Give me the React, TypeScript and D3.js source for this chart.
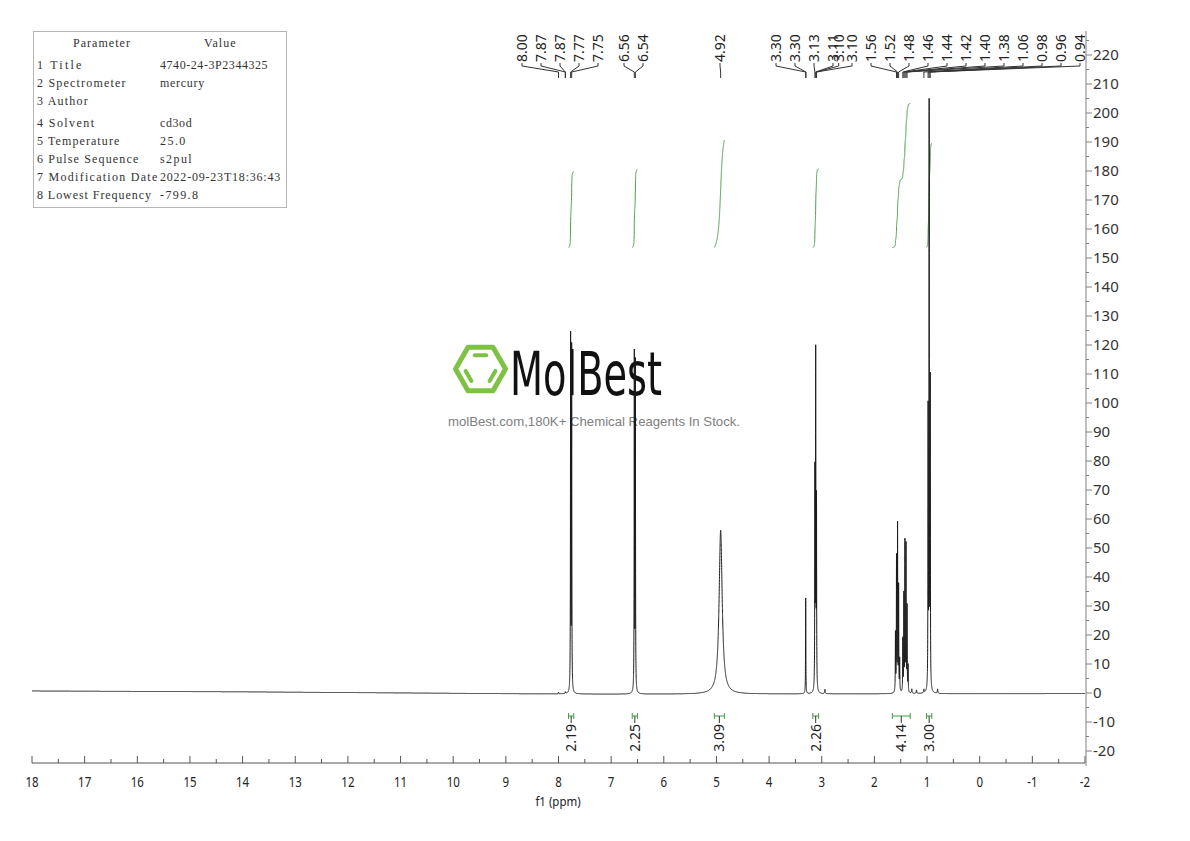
import React from "react";
import * as d3 from "d3";

// ---------- data ----------
const xTickValues = d3.range(18, -2.5, -1);
const xMinorValues = d3.range(17.5, -2, -1);
const yTickValues = d3.range(-20, 221, 10);
const yMinorValues = d3.range(-15, 226, 10);

// peak list: chemical shift (ppm), height, half width (ppm)
const peakPpm = [8.0, 7.87, 7.77, 7.75, 6.56, 6.54, 4.92, 3.305, 3.13, 3.115, 3.1, 2.94, 1.6, 1.58, 1.56, 1.54, 1.52, 1.46, 1.44, 1.42, 1.4, 1.38, 1.36, 1.29, 1.2, 1.06, 0.98, 0.96, 0.94, 0.8];
const peakHeight = [0.6, 0.6, 122, 118, 116, 113, 56.5, 33, 74, 114, 64, 1.5, 20, 46, 57, 36, 11, 18, 33, 51, 50, 29, 9, 1.5, 1.2, 1.2, 95, 200, 105, 1.5];
const peakWidth = [0.004, 0.004, 0.0033, 0.0033, 0.0033, 0.0033, 0.035, 0.003, 0.0033, 0.0033, 0.0033, 0.006, 0.0033, 0.0033, 0.0033, 0.0033, 0.0033, 0.0033, 0.0033, 0.0033, 0.0033, 0.0033, 0.0033, 0.006, 0.006, 0.005, 0.0033, 0.0033, 0.0033, 0.006];

const baselinePpm = [18, 14, 10, 8.5, 7, 5.5, 4, 2, 0, -2];
const baselineValue = [0.7, 0.4, -0.1, -0.3, -0.4, -0.4, -0.35, -0.3, -0.25, -0.2];

const peakLabelText = ["8.00", "7.87", "7.87", "7.77", "7.75", "6.56", "6.54", "4.92", "3.30", "3.30", "3.13", "3.11", "3.10", "3.10", "1.56", "1.52", "1.48", "1.46", "1.44", "1.42", "1.40", "1.38", "1.06", "0.98", "0.96", "0.94"];
const peakLabelPpm = [8.0, 7.87, 7.87, 7.77, 7.75, 6.56, 6.54, 4.92, 3.305, 3.30, 3.13, 3.115, 3.10, 3.10, 1.58, 1.56, 1.54, 1.46, 1.44, 1.42, 1.40, 1.38, 1.06, 0.98, 0.96, 0.94];
const peakLabelGroup = [0, 0, 0, 0, 0, 1, 1, 2, 3, 3, 3, 3, 3, 3, 3, 3, 3, 3, 3, 3, 3, 3, 3, 3, 3, 3];

const integralValue = [2.19, 2.25, 3.09, 2.26, 4.14, 3.0];
const integralFrom = [7.81, 6.6, 5.04, 3.17, 1.66, 1.01];
const integralTo = [7.71, 6.5, 4.85, 3.06, 1.32, 0.91];

const paramNames = ["1 Title", "2 Spectrometer", "3 Author", "4 Solvent", "5 Temperature", "6 Pulse Sequence", "7 Modification Date", "8 Lowest Frequency"];
const paramValues = ["4740-24-3P2344325", "mercury", "", "cd3od", "25.0", "s2pul", "2022-09-23T18:36:43", "-799.8"];

// ---------- layout ----------
const W = 1190;
const H = 841;
const x = d3.scaleLinear().domain([18, -2]).range([32, 1085]);
const y = d3.scaleLinear().domain([0, 220]).range([693, 55]);
const axisY = 763;
const axisX = 1086;
const green = "#3f9f3f";
const logoGreen = "#7dc242";

const baseline = d3.scaleLinear().domain(baselinePpm).range(baselineValue);
function peaksAt(p: number) {
  let s = 0;
  for (let i = 0; i < peakPpm.length; i++) {
    const d = (p - peakPpm[i]) / peakWidth[i];
    s += peakHeight[i] / (1 + d * d);
  }
  return s;
}

const grid = Array.from(new Set([...d3.range(18, -2.0001, -0.0005), ...peakPpm])).sort((a, b) => b - a);
const spectrum = grid.map((p) => [p, baseline(p) + peaksAt(p)] as [number, number]);
const specLine = d3
  .line<[number, number]>()
  .x((d) => x(d[0]))
  .y((d) => y(d[1]));

const integralBase = 153.6;
const integralScale = 12;
function integralCurve(i: number) {
  const pts = d3.range(integralFrom[i], integralTo[i] - 0.00001, -0.0005);
  const vals = pts.map((p) => peaksAt(p));
  const cum = d3.cumsum(vals);
  const total = cum[cum.length - 1];
  const data = pts.map((p, k) => [p, integralBase + (cum[k] / total) * integralValue[i] * integralScale] as [number, number]);
  return specLine(data) || "";
}

// label placement: groups of evenly spaced labels
const groupStart = [522, 624, 720, 776];
const labelStep = 19;
const labelX = peakLabelText.map((_, i) => {
  const g = peakLabelGroup[i];
  const first = peakLabelGroup.indexOf(g);
  let k = i - first;
  if (g === 3 && i >= 12) k = i - first - 0.7;
  if (g === 3 && i >= 13) k = i - first - 1;
  return groupStart[g] + k * labelStep;
});

const charW = 6.33;
const hexCx = 480.5;
const hexCy = 369;
const hexPt = (r: number, k: number) => [hexCx + r * Math.cos((Math.PI / 3) * k), hexCy + r * Math.sin((Math.PI / 3) * k)];

export default function App() {
  const tableRowsY = [65, 83, 101, 123, 141, 159, 177, 195];
  return (
    <svg width={W} height={H} style={{ display: "block", position: "absolute", left: 0, top: 0, background: "#fff" }}>
      <rect x={0} y={0} width={W} height={H} fill="#fff" />

      {/* parameter table */}
      <g fontFamily="'Liberation Serif', 'DejaVu Serif', serif" fontSize={12} fill="#333">
        <rect x={33.5} y={31.5} width={253} height={176} fill="none" stroke="#b5b5b5" />
        <text x={73} y={47} textLength={9 * charW} lengthAdjust="spacing">Parameter</text>
        <text x={204} y={47} textLength={5 * charW} lengthAdjust="spacing">Value</text>
        {paramNames.map((n, i) => (
          <text key={n} x={37} y={tableRowsY[i] + 4} textLength={n.length * charW} lengthAdjust="spacing">{n}</text>
        ))}
        {paramValues.map((v, i) =>
          v ? (
            <text key={"v" + i} x={160} y={tableRowsY[i] + 4} textLength={v.length * charW} lengthAdjust="spacing">{v}</text>
          ) : null
        )}
      </g>

      {/* watermark logo */}
      <g>
        <polygon
          points={d3.range(6).map((k) => hexPt(25, k).join(",")).join(" ")}
          fill="none"
          stroke={logoGreen}
          strokeWidth={5}
          strokeLinejoin="round"
        />
        {[[4, 5], [2, 3], [0, 1]].map(([a, b], k) => {
          const pa = hexPt(16, a);
          const pb = hexPt(16, b);
          const t = 0.14;
          return (
            <line
              key={k}
              x1={pa[0] + (pb[0] - pa[0]) * t}
              y1={pa[1] + (pb[1] - pa[1]) * t}
              x2={pb[0] - (pb[0] - pa[0]) * t}
              y2={pb[1] - (pb[1] - pa[1]) * t}
              stroke={logoGreen}
              strokeWidth={4}
              strokeLinecap="round"
            />
          );
        })}
        <text x={510} y={395} fontFamily="'DejaVu Sans', sans-serif" fontSize={61} fill="#111" textLength={152} lengthAdjust="spacingAndGlyphs">MolBest</text>
        <text x={448} y={426} fontFamily="'Liberation Sans', Arial, sans-serif" fontSize={13} fill="#808080" textLength={292} lengthAdjust="spacingAndGlyphs">molBest.com,180K+ Chemical Reagents In Stock.</text>
      </g>

      {/* integral curves */}
      {integralValue.map((_, i) => (
        <path key={"ic" + i} d={integralCurve(i)} fill="none" stroke={green} strokeWidth={1} />
      ))}

      {/* spectrum */}
      <path d={specLine(spectrum) || ""} fill="none" stroke="#1a1a1a" strokeWidth={1} />

      {/* integral brackets and labels */}
      {integralValue.map((v, i) => {
        const x1 = x(integralFrom[i]);
        const x2 = x(integralTo[i]);
        const cx = (x1 + x2) / 2;
        return (
          <g key={"ib" + i}>
            <line x1={x1} x2={x2} y1={716} y2={716} stroke={green} />
            <line x1={x1} x2={x1} y1={713} y2={719} stroke={green} />
            <line x1={x2} x2={x2} y1={713} y2={719} stroke={green} />
            <line x1={cx} x2={cx} y1={716} y2={723} stroke="#333" />
            <text
              transform={`translate(${cx + 5},${724}) rotate(-90)`}
              textAnchor="end"
              fontFamily="'Noto Sans', sans-serif"
              fontSize={14}
              fill="#222"
            >
              {v.toFixed(2)}
            </text>
          </g>
        );
      })}

      {/* peak labels */}
      {peakLabelText.map((t, i) => {
        const lx = labelX[i];
        const px = x(peakLabelPpm[i]);
        return (
          <g key={"pl" + i}>
            <text
              transform={`translate(${lx + 5},${62}) rotate(-90)`}
              fontFamily="'Noto Sans', sans-serif"
              fontSize={14}
              fill="#222"
            >
              {t}
            </text>
            <polyline
              points={`${lx},63 ${lx},66 ${px},72 ${px},78`}
              fill="none"
              stroke="#333"
              strokeWidth={1}
            />
          </g>
        );
      })}

      {/* x axis */}
      <g>
        <line x1={x(18)} x2={x(-2)} y1={axisY} y2={axisY} stroke="#555" />
        {xTickValues.map((t) => (
          <g key={"xt" + t}>
            <line x1={x(t)} x2={x(t)} y1={axisY} y2={axisY - 7} stroke="#555" />
            <text
              transform={`translate(${x(t)},${787}) scale(0.82,1)`}
              textAnchor="middle"
              fontFamily="'Noto Sans', sans-serif"
              fontSize={14}
              fill="#222"
            >
              {t}
            </text>
          </g>
        ))}
        {xMinorValues.map((t) => (
          <line key={"xm" + t} x1={x(t)} x2={x(t)} y1={axisY} y2={axisY - 4} stroke="#555" />
        ))}
        <text
          transform={`translate(${558},${806}) scale(0.85,1)`}
          textAnchor="middle"
          fontFamily="'Noto Sans', sans-serif"
          fontSize={13.5}
          fill="#222"
        >
          f1 (ppm)
        </text>
      </g>

      {/* y axis */}
      <g>
        <line x1={axisX} x2={axisX} y1={31} y2={766} stroke="#808080" />
        {yTickValues.map((t) => (
          <g key={"yt" + t}>
            <line x1={axisX} x2={axisX + 6} y1={y(t)} y2={y(t)} stroke="#808080" />
            <text
              x={axisX + 7}
              y={y(t)}
              dy="0.35em"
              fontFamily="'Noto Sans', sans-serif"
              fontSize={15}
              fill="#333"
            >
              {t}
            </text>
          </g>
        ))}
        {yMinorValues.map((t) => (
          <line key={"ym" + t} x1={axisX} x2={axisX + 3} y1={y(t)} y2={y(t)} stroke="#808080" />
        ))}
      </g>
    </svg>
  );
}
